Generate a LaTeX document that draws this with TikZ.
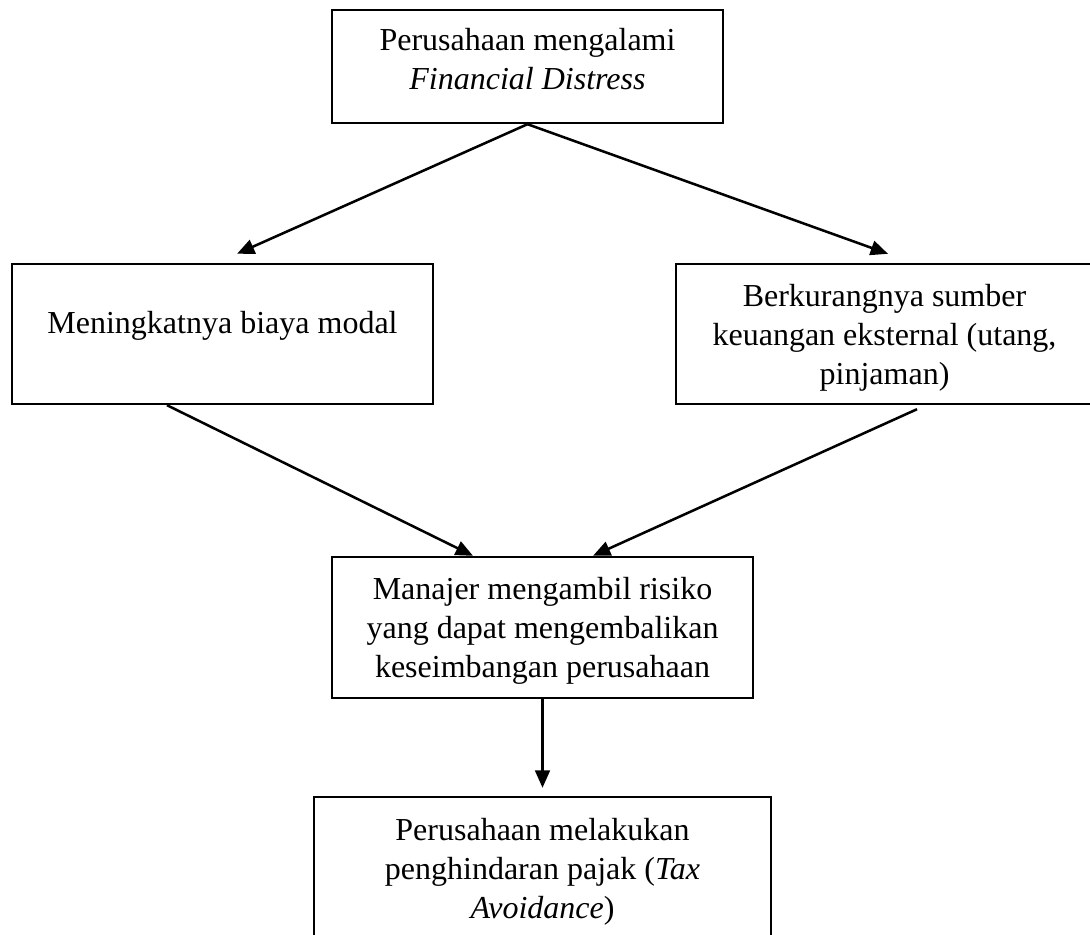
\documentclass[tikz,border=0pt]{standalone}
\usepackage{fontspec}
\setmainfont{Liberation Serif}
\usetikzlibrary{arrows.meta,calc}
\begin{document}
\begin{tikzpicture}[x=0.375pt, y=-0.375pt,
  box/.style 2 args={draw=black, line width=0.9pt, rectangle, inner sep=0pt,
    minimum width={#1*0.375pt}, minimum height={#2*0.375pt}},
  txt/.style={inner sep=0pt, anchor=base, font=\fontsize{12}{14.5}\selectfont},
  arr/.style={line width=0.95pt, -{Triangle[length=6.5pt,width=5.5pt]}}]
\useasboundingbox (0,0) rectangle (1090,934);
% boxes
\node[box={391}{113}] (top) at (527.5,66.5) {};
\node[box={421}{140}] (left) at (222.5,334) {};
\node[box={417}{140}] (right) at (884.5,334) {};
\node[box={421}{141}] (mid) at (542.5,627.5) {};
\node[box={457}{140}] (bot) at (542.5,867) {};
% texts
\node[txt] (toptxt) at ($(top.north)+(0,42)$) {\begin{tabular}[t]{@{}c@{}}Perusahaan mengalami\\\textit{Financial Distress}\end{tabular}};
\node[txt] (lefttxt) at ($(left.north)+(0,71)$) {\begin{tabular}[t]{@{}c@{}}Meningkatnya biaya modal\end{tabular}};
\node[txt] (righttxt) at ($(right.north)+(0,44)$) {\begin{tabular}[t]{@{}c@{}}Berkurangnya sumber\\keuangan eksternal (utang,\\pinjaman)\end{tabular}};
\node[txt] (midtxt) at ($(mid.north)+(0,44)$) {\begin{tabular}[t]{@{}c@{}}Manajer mengambil risiko\\yang dapat mengembalikan\\keseimbangan perusahaan\end{tabular}};
\node[txt] (bottxt) at ($(bot.north)+(0,45)$) {\begin{tabular}[t]{@{}c@{}}Perusahaan melakukan\\penghindaran pajak (\textit{Tax}\\\textit{Avoidance})\end{tabular}};
% connectors
\draw[arr] (top.south) -- ($(left.north)+(14.5,-9)$);
\draw[arr] (top.south) -- ($(right.north)+(3.5,-9)$);
\draw[arr] ($(left.south)+(-55.5,0)$) -- ($(mid.north)+(-69.5,0)$);
\draw[arr] ($(right.south)+(32.5,4)$) -- ($(mid.north)+(50.5,0)$);
\draw[arr] (mid.south) -- ($(bot.north)+(0,-8)$);
\end{tikzpicture}
\end{document}
